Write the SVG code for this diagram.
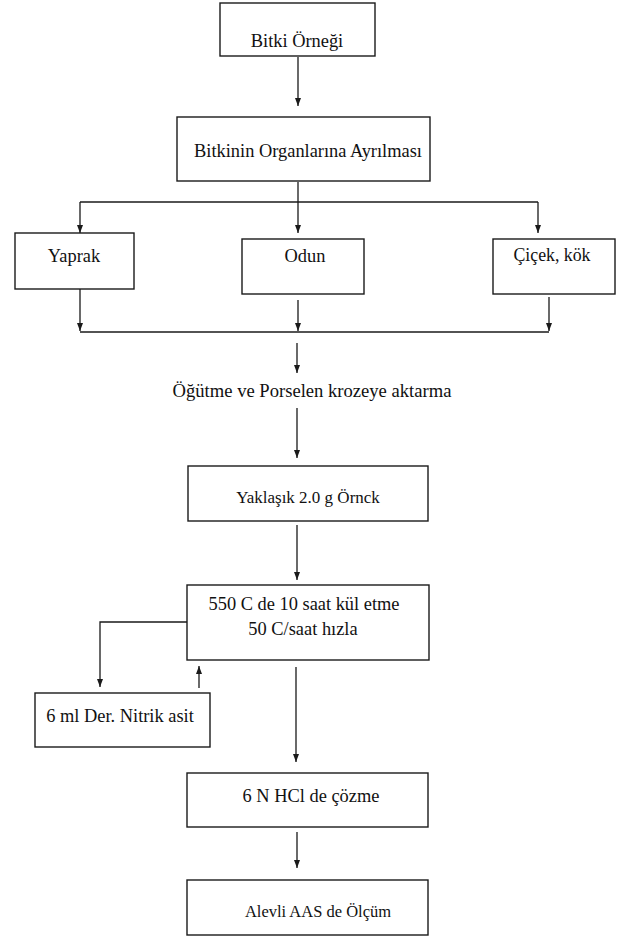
<svg xmlns="http://www.w3.org/2000/svg" width="623" height="936" viewBox="0 0 623 936">
<style>
.box{fill:#fff;stroke:#1a1a1a;stroke-width:1.4}
.t{font-family:'Liberation Serif','DejaVu Serif','Times New Roman',serif;font-size:18.4px;fill:#111;text-anchor:middle}
.c{fill:none;stroke:#1a1a1a;stroke-width:1.3}
</style>
<defs>
<marker id="ah" markerUnits="userSpaceOnUse" markerWidth="8" markerHeight="8" viewBox="0 0 8 8" refX="8" refY="4" orient="auto">
<path d="M0,1 L8,4 L0,7 Z" fill="#1a1a1a"/>
</marker>
</defs>
<rect width="623" height="936" fill="#fff"/>
<g id="connectors">
<line class="c" x1="298" y1="57" x2="298" y2="106" marker-end="url(#ah)"/>
<line class="c" x1="298" y1="182" x2="298" y2="202"/>
<line class="c" x1="80" y1="202" x2="538" y2="202"/>
<line class="c" x1="80" y1="202" x2="80" y2="233" marker-end="url(#ah)"/>
<line class="c" x1="298" y1="202" x2="298" y2="233" marker-end="url(#ah)"/>
<line class="c" x1="538" y1="202" x2="538" y2="233" marker-end="url(#ah)"/>
<line class="c" x1="80" y1="289" x2="80" y2="331" marker-end="url(#ah)"/>
<line class="c" x1="298" y1="300" x2="298" y2="331" marker-end="url(#ah)"/>
<line class="c" x1="549" y1="297" x2="549" y2="331" marker-end="url(#ah)"/>
<line class="c" x1="80" y1="332" x2="549" y2="332"/>
<line class="c" x1="297" y1="343" x2="297" y2="373" marker-end="url(#ah)"/>
<line class="c" x1="297" y1="408" x2="297" y2="458" marker-end="url(#ah)"/>
<line class="c" x1="297" y1="525" x2="297" y2="580" marker-end="url(#ah)"/>
<polyline class="c" points="187,622 100,622 100,687" marker-end="url(#ah)"/>
<line class="c" x1="199" y1="688" x2="199" y2="666" marker-end="url(#ah)"/>
<line class="c" x1="296" y1="667" x2="296" y2="762" marker-end="url(#ah)"/>
<line class="c" x1="297" y1="832" x2="297" y2="868" marker-end="url(#ah)"/>
</g>
<g id="n1"><rect class="box" x="220" y="3" width="155" height="53"/><text class="t" x="297" y="47">Bitki Örneği</text></g>
<g id="n2"><rect class="box" x="177" y="117" width="253" height="64"/><text class="t" x="308" y="157">Bitkinin Organlarına Ayrılması</text></g>
<g id="n3"><rect class="box" x="15" y="233" width="119" height="56"/><text class="t" x="74" y="262">Yaprak</text></g>
<g id="n4"><rect class="box" x="242" y="239" width="122" height="55"/><text class="t" x="305" y="262">Odun</text></g>
<g id="n5"><rect class="box" x="493" y="239" width="122" height="55"/><text class="t" x="552" y="261" style="font-size:17.8px">Çiçek, kök</text></g>
<g id="n6"><text class="t" x="312" y="397" style="font-size:18.6px">Öğütme ve Porselen krozeye aktarma</text></g>
<g id="n7"><rect class="box" x="188" y="466" width="240" height="55"/><text class="t" x="308" y="503" style="font-size:17px">Yaklaşık 2.0 g Örnck</text></g>
<g id="n8"><rect class="box" x="187" y="585" width="242" height="75"/><text class="t" x="304" y="610">550  C de 10 saat kül etme</text><text class="t" x="303" y="635">50 C/saat hızla</text></g>
<g id="n9"><rect class="box" x="35" y="693" width="175" height="54"/><text class="t" x="120" y="722">6 ml Der. Nitrik asit</text></g>
<g id="n10"><rect class="box" x="187" y="773" width="241" height="54"/><text class="t" x="311" y="802">6 N HCl de çözme</text></g>
<g id="n11"><rect class="box" x="187" y="880" width="241" height="55"/><text class="t" x="318" y="917" style="font-size:16.5px">Alevli AAS de Ölçüm</text></g>
</svg>
